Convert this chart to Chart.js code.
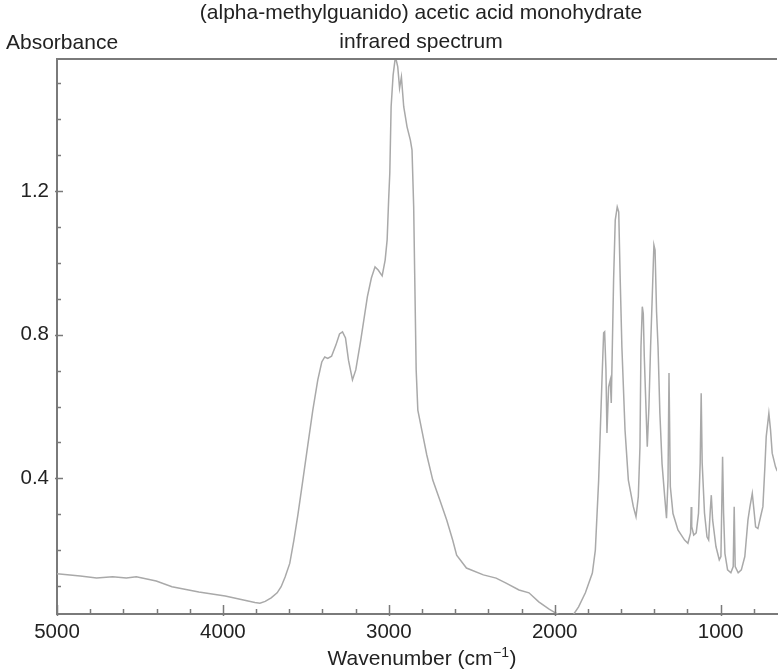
<!DOCTYPE html>
<html>
<head>
<meta charset="utf-8">
<script src="https://cdn.jsdelivr.net/npm/chart.js@4/dist/chart.umd.min.js"></script>
<style>
  html, body { margin: 0; padding: 0; background: #ffffff; }
  #c { display: block; }
</style>
</head>
<body>
<canvas id="c" width="783" height="671"></canvas>
<script>
// ---- data ----
const titleLines = ['(alpha-methylguanido) acetic acid monohydrate', 'infrared spectrum'];
const yAxisLabel = 'Absorbance';
const xAxisLabel = 'Wavenumber (cm';
const xAxisLabelSup = '\u22121';
const xMajorTicks = [5000, 4000, 3000, 2000, 1000];
const yMajorTicks = [0.4, 0.8, 1.2];

const wavenumber = [
  5000, 4860, 4761, 4665, 4582, 4522, 4402, 4307, 4145, 3986,
  3876, 3807, 3777, 3745, 3709, 3673, 3649, 3625, 3597, 3572,
  3548, 3518, 3488, 3458, 3428, 3404, 3386, 3368, 3345, 3319,
  3297, 3279, 3261, 3243, 3219, 3199, 3169, 3129, 3105, 3083,
  3064, 3040, 3022, 3010, 3001, 2994, 2986, 2974, 2960, 2946,
  2935, 2924, 2910, 2890, 2870, 2860, 2850, 2844, 2835, 2825,
  2801, 2771, 2735, 2693, 2651, 2615, 2591, 2532, 2430, 2353,
  2293, 2215, 2155, 2096, 2036, 2006, 1964, 1892, 1856, 1815,
  1773, 1755, 1735, 1725, 1715, 1705, 1699, 1691, 1685, 1675,
  1665, 1659, 1645, 1635, 1623, 1614, 1605, 1595, 1576, 1556,
  1526, 1510, 1496, 1486, 1480, 1472, 1466, 1460, 1452, 1442,
  1432, 1422, 1412, 1402, 1395, 1386, 1377, 1366, 1353, 1337,
  1326, 1317, 1311, 1303, 1287, 1257, 1217, 1197, 1181, 1177,
  1174, 1162, 1147, 1133, 1123, 1117, 1111, 1097, 1082, 1072,
  1062, 1056, 1048, 1028, 1008, 998, 988, 982, 974, 958,
  938, 924, 918, 912, 894, 875, 854, 835, 823, 809,
  799, 789, 775, 759, 745, 733, 725, 709, 699, 689,
  669, 661, 650
];
const absorbance = [
  0.134, 0.128, 0.122, 0.126, 0.122, 0.126, 0.114, 0.098, 0.083, 0.072,
  0.061, 0.054, 0.052, 0.057, 0.067, 0.081, 0.098, 0.125, 0.163, 0.228,
  0.298, 0.395, 0.493, 0.590, 0.674, 0.724, 0.738, 0.734, 0.740, 0.771,
  0.802, 0.808, 0.791, 0.729, 0.674, 0.702, 0.785, 0.906, 0.958, 0.989,
  0.980, 0.964, 1.008, 1.064, 1.175, 1.250, 1.435, 1.523, 1.575, 1.546,
  1.487, 1.518, 1.435, 1.379, 1.342, 1.314, 1.156, 0.972, 0.702, 0.590,
  0.534, 0.465, 0.395, 0.340, 0.284, 0.228, 0.186, 0.150, 0.131, 0.122,
  0.108, 0.089, 0.081, 0.056, 0.036, 0.028, 0.017, 0.017, 0.042, 0.081,
  0.136, 0.200, 0.395, 0.535, 0.674, 0.805, 0.808, 0.702, 0.526, 0.655,
  0.674, 0.610, 0.952, 1.119, 1.156, 1.142, 0.952, 0.766, 0.534, 0.395,
  0.321, 0.293, 0.349, 0.488, 0.766, 0.878, 0.859, 0.739, 0.628, 0.488,
  0.599, 0.766, 0.906, 1.050, 1.036, 0.864, 0.766, 0.581, 0.441, 0.349,
  0.289, 0.395, 0.693, 0.377, 0.302, 0.256, 0.228, 0.219, 0.248, 0.320,
  0.265, 0.242, 0.248, 0.303, 0.443, 0.637, 0.443, 0.303, 0.237, 0.228,
  0.312, 0.353, 0.284, 0.210, 0.173, 0.182, 0.460, 0.303, 0.191, 0.145,
  0.137, 0.154, 0.321, 0.154, 0.137, 0.145, 0.182, 0.284, 0.321, 0.358,
  0.312, 0.265, 0.260, 0.293, 0.321, 0.432, 0.516, 0.581, 0.535, 0.470,
  0.432, 0.423, 0.415
];

// ---- styling ----
const FONT = '"Liberation Sans", Arial, Helvetica, sans-serif';
const TEXT_COLOR = '#222222';
const AXIS_COLOR = '#7a7a7a';
const LINE_COLOR = '#a9a9a9';

const points = wavenumber.map((w, i) => ({ x: w, y: absorbance[i] }));

const decor = {
  id: 'decor',
  afterDraw(chart) {
    const { ctx, chartArea: ca, scales } = chart;
    const xs = scales.x, ys = scales.y;
    ctx.save();
    ctx.strokeStyle = AXIS_COLOR;
    ctx.lineWidth = 2;
    // top frame line
    ctx.beginPath();
    ctx.moveTo(ca.left - 1, ca.top);
    ctx.lineTo(ca.right, ca.top);
    ctx.stroke();
    // x tick marks (inward)
    ctx.lineWidth = 1.5;
    for (let v = 5000; v >= 800; v -= 200) {
      const px = Math.round(xs.getPixelForValue(v)) + 0.5;
      const major = xMajorTicks.includes(v);
      ctx.beginPath();
      ctx.moveTo(px, ca.bottom + (major ? 2 : 0));
      ctx.lineTo(px, ca.bottom - (major ? 9 : 5));
      ctx.stroke();
    }
    // y tick marks
    for (let k = 1; k <= 15; k++) {
      const v = k / 10;
      const py = Math.round(ys.getPixelForValue(v)) + 0.5;
      const major = yMajorTicks.some(m => Math.abs(m - v) < 1e-9);
      ctx.beginPath();
      ctx.moveTo(ca.left - (major ? 2 : 0), py);
      ctx.lineTo(ca.left + (major ? 6 : 4), py);
      ctx.stroke();
    }
    // texts
    ctx.fillStyle = TEXT_COLOR;
    ctx.font = '21px ' + FONT;
    ctx.textBaseline = 'alphabetic';
    ctx.textAlign = 'center';
    const cx = 421;
    ctx.fillText(titleLines[0], cx, 19);
    ctx.fillText(titleLines[1], cx, 48);
    ctx.textAlign = 'left';
    ctx.fillText(yAxisLabel, 6, 49);
    // x axis label with superscript
    const supFont = '14px ' + FONT;
    ctx.font = '21px ' + FONT;
    const w1 = ctx.measureText(xAxisLabel).width;
    const w3 = ctx.measureText(')').width;
    ctx.font = supFont;
    const w2 = ctx.measureText(xAxisLabelSup).width;
    const total = w1 + w2 + w3 + 1;
    let sx = 422 - total / 2;
    const by = 665;
    ctx.font = '21px ' + FONT;
    ctx.fillText(xAxisLabel, sx, by);
    sx += w1 + 0.5;
    ctx.font = supFont;
    ctx.fillText(xAxisLabelSup, sx, by - 8);
    sx += w2 + 0.5;
    ctx.font = '21px ' + FONT;
    ctx.fillText(')', sx, by);
    ctx.restore();
  }
};

new Chart(document.getElementById('c'), {
  type: 'line',
  data: {
    datasets: [{
      data: points,
      borderColor: LINE_COLOR,
      borderWidth: 1.5,
      pointRadius: 0,
      tension: 0,
      fill: false
    }]
  },
  options: {
    responsive: false,
    animation: false,
    devicePixelRatio: 1,
    layout: { padding: { top: 59, left: 0, right: 0, bottom: 0 } },
    plugins: { legend: { display: false }, tooltip: { enabled: false }, title: { display: false } },
    scales: {
      x: {
        type: 'linear',
        reverse: true,
        min: 660,
        max: 5000,
        grid: { display: false, drawTicks: false },
        border: { display: true, color: AXIS_COLOR, width: 2 },
        ticks: {
          stepSize: 200,
          autoSkip: false,
          maxRotation: 0,
          color: TEXT_COLOR,
          padding: 6,
          font: { family: FONT, size: 20.5 },
          callback: (v) => xMajorTicks.includes(v) ? String(v) : ''
        },
        afterFit: (s) => { s.height = 57; }
      },
      y: {
        type: 'linear',
        min: 0.022,
        max: 1.568,
        grid: { display: false, drawTicks: false },
        border: { display: true, color: AXIS_COLOR, width: 2 },
        ticks: {
          stepSize: 0.1,
          autoSkip: false,
          color: TEXT_COLOR,
          padding: 8,
          font: { family: FONT, size: 20.5 },
          callback: (v) => {
            const m = yMajorTicks.find(t => Math.abs(t - v) < 1e-6);
            return m !== undefined ? m.toFixed(1) : '';
          }
        },
        afterFit: (s) => { s.width = 57; }
      }
    }
  },
  plugins: [decor]
});
</script>
</body>
</html>
